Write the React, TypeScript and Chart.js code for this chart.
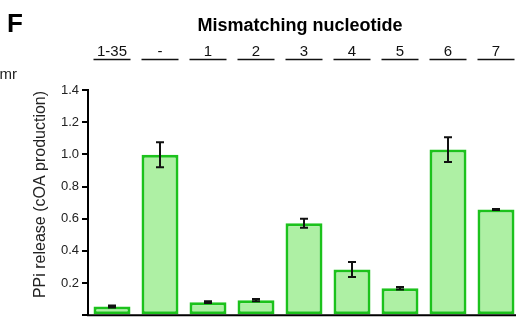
import React, { useEffect, useRef } from "react";
import { Chart, registerables } from "chart.js";

Chart.register(...registerables);

const categories = ["1-35", "-", "1", "2", "3", "4", "5", "6", "7"];
const means = [0.054, 0.997, 0.081, 0.093, 0.571, 0.284, 0.167, 1.03, 0.657];
const errors = [0.006, 0.078, 0.005, 0.007, 0.028, 0.046, 0.008, 0.077, 0.003];
const yMin = 0;
const yMax = 1.4;
const yStep = 0.2;
const headerTitle = "Mismatching nucleotide";
const yTitle = "PPi release (cOA production)";
const panelLetter = "F";
const sideText = "mr";

const FONT = "'Liberation Sans', Arial, Helvetica, sans-serif";
const BAR_FILL = "#aef0a4";
const BAR_BORDER = "#1cc21c";

const decorPlugin = {
  id: "decor",
  afterDatasetsDraw(chart: any) {
    const { ctx } = chart;
    const xs = chart.scales.x;
    const ys = chart.scales.y;
    ctx.save();
    ctx.strokeStyle = "#111";
    ctx.lineWidth = 2;
    means.forEach((m, i) => {
      const x = xs.getPixelForValue(i);
      const yT = ys.getPixelForValue(m + errors[i]);
      const yB = ys.getPixelForValue(m - errors[i]);
      ctx.beginPath();
      ctx.moveTo(x, yT);
      ctx.lineTo(x, yB);
      ctx.moveTo(x - 4, yT);
      ctx.lineTo(x + 4, yT);
      ctx.moveTo(x - 4, yB);
      ctx.lineTo(x + 4, yB);
      ctx.stroke();
    });
    ctx.restore();
  },
  afterDraw(chart: any) {
    const { ctx, chartArea } = chart;
    const xs = chart.scales.x;
    ctx.save();
    // bottom axis line
    ctx.strokeStyle = "#000";
    ctx.lineWidth = 2;
    ctx.beginPath();
    ctx.moveTo(chartArea.left - 1, chartArea.bottom);
    ctx.lineTo(chart.width, chartArea.bottom);
    ctx.stroke();

    ctx.fillStyle = "#000";
    // panel letter
    ctx.font = `bold 26px ${FONT}`;
    ctx.textAlign = "left";
    ctx.textBaseline = "alphabetic";
    ctx.fillText(panelLetter, 7, 32);
    // side text
    ctx.font = `15px ${FONT}`;
    ctx.textAlign = "right";
    ctx.fillStyle = "#222";
    ctx.fillText(sideText, 17, 79);
    // header title
    ctx.fillStyle = "#000";
    ctx.font = `bold 18px ${FONT}`;
    ctx.textAlign = "center";
    ctx.fillText(headerTitle, 300, 31);
    // category labels with underlines
    ctx.font = `15px ${FONT}`;
    ctx.fillStyle = "#111";
    ctx.lineWidth = 1.3;
    ctx.strokeStyle = "#111";
    categories.forEach((c, i) => {
      const x = xs.getPixelForValue(i);
      ctx.fillText(c, x, 56);
      ctx.beginPath();
      ctx.moveTo(x - 18.5, 59.5);
      ctx.lineTo(x + 18.5, 59.5);
      ctx.stroke();
    });
    // y title
    ctx.save();
    ctx.translate(41, 194.5);
    ctx.rotate(-Math.PI / 2);
    ctx.font = `16px ${FONT}`;
    ctx.fillStyle = "#222";
    ctx.textAlign = "center";
    ctx.textBaseline = "middle";
    ctx.fillText(yTitle, 0, 0);
    ctx.restore();
    ctx.restore();
  },
};

export default function App() {
  const ref = useRef<HTMLCanvasElement | null>(null);
  useEffect(() => {
    if (!ref.current) return;
    Chart.defaults.font.family = FONT;
    const chart = new Chart(ref.current, {
      type: "bar",
      data: {
        labels: categories,
        datasets: [
          {
            data: means,
            backgroundColor: BAR_FILL,
            borderColor: BAR_BORDER,
            borderWidth: 3,
            borderSkipped: false,
            categoryPercentage: 1,
            barPercentage: 0.77,
          },
        ],
      },
      options: {
        animation: false,
        responsive: false,
        maintainAspectRatio: false,
        layout: { padding: { top: 90, bottom: 2, left: 0, right: 10 } },
        plugins: {
          legend: { display: false },
          tooltip: { enabled: false },
          title: { display: false },
        },
        scales: {
          x: { display: false },
          y: {
            min: yMin,
            max: yMax,
            afterFit(scale: any) {
              scale.width = 88;
            },
            ticks: {
              stepSize: yStep,
              padding: 3,
              color: "#222",
              font: { size: 13, family: FONT },
              callback: (v: any) => (Number(v) === 0 ? "" : Number(v).toFixed(1)),
            },
            grid: {
              display: true,
              drawOnChartArea: false,
              drawTicks: true,
              tickLength: 6,
              color: "#000",
              lineWidth: 2,
            },
            border: { display: true, color: "#000", width: 2 },
          },
        },
      },
      plugins: [decorPlugin],
    });
    return () => chart.destroy();
  }, []);
  return (
    <div
      style={{
        position: "fixed",
        left: 0,
        top: 0,
        width: 516,
        height: 326,
        overflow: "hidden",
        background: "#fff",
      }}
    >
      <canvas ref={ref} width={530} height={326} style={{ display: "block" }} />
    </div>
  );
}
